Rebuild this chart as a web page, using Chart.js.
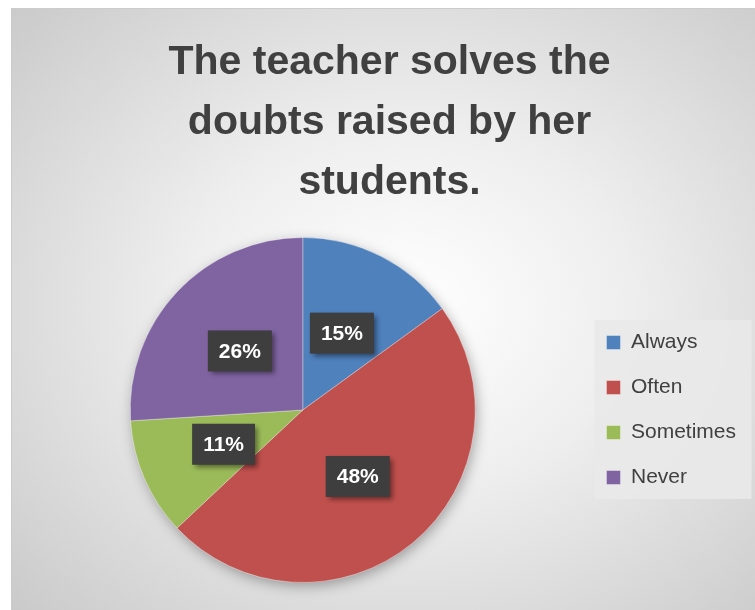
<!DOCTYPE html>
<html>
<head>
  <meta charset="utf-8">
  <title>Doubts pie</title>
  <script src="https://cdn.jsdelivr.net/npm/chart.js@4.4.0/dist/chart.umd.min.js"></script>
  <style>
    html, body {
      margin: 0;
      padding: 0;
      width: 755px;
      height: 610px;
      overflow: hidden;
      background: #fff;
    }
    .frame {
      position: absolute;
      left: 11px;
      top: 8px;
      width: 760px;
      height: 620px;
      border: 1px solid #cccccc;
      background: radial-gradient(ellipse farthest-corner at 52% 48%, #ffffff 0%, #eeeeee 40%, #c8c8c8 100%);
    }
    .chart-box {
      position: absolute;
      left: 11px;
      top: 8px;
      width: 744px;
      height: 602px;
    }
  </style>
</head>
<body>
  <div class="frame"></div>
  <div class="chart-box">
    <canvas id="pie"></canvas>
  </div>

<script>
// answers to "The teacher solves the doubts raised by her students."
const categories = ['Always', 'Often', 'Sometimes', 'Never'];
const percents = [15, 48, 11, 26];
const sliceColors = ['#4f81bd', '#c0504d', '#9bbb59', '#8064a2'];
const titleLines = ['The teacher solves the', 'doubts raised by her', 'students.'];

// nudge the title a little right, it sits over the whole frame in the original
const titleNudge = {
  id: 'titleNudge',
  afterLayout(chart) {
    if (chart.titleBlock) chart.titleBlock.left += 10;
  }
};

// flat light panel behind the legend entries
const legendPanel = {
  id: 'legendPanel',
  beforeDraw(chart) {
    const boxes = chart.legend && chart.legend.legendHitBoxes;
    if (!boxes || !boxes.length) return;
    const first = boxes[0];
    const last = boxes[boxes.length - 1];
    const ctx = chart.ctx;
    ctx.save();
    ctx.fillStyle = 'rgba(233,233,233,0.9)';
    ctx.fillRect(first.left - 12, first.top - 12, 157, last.top + last.height - first.top + 23);
    ctx.restore();
  }
};

// soft shadow under the whole pie
const pieShadow = {
  id: 'pieShadow',
  beforeDatasetsDraw(chart) {
    const arc = chart.getDatasetMeta(0).data[0];
    if (!arc) return;
    const p = arc.getProps(['x', 'y', 'outerRadius'], true);
    const ctx = chart.ctx;
    ctx.save();
    ctx.shadowColor = 'rgba(0,0,0,0.35)';
    ctx.shadowBlur = 14;
    ctx.shadowOffsetX = 2;
    ctx.shadowOffsetY = 4;
    ctx.fillStyle = '#999';
    ctx.beginPath();
    ctx.arc(p.x, p.y, p.outerRadius - 1, 0, Math.PI * 2);
    ctx.fill();
    ctx.restore();
  }
};

// dark boxed percentage labels, halfway out along each slice
const sliceLabels = {
  id: 'sliceLabels',
  afterDatasetsDraw(chart) {
    const ctx = chart.ctx;
    const meta = chart.getDatasetMeta(0);
    ctx.save();
    ctx.font = 'bold 21px "Liberation Sans", Arial, sans-serif';
    ctx.textAlign = 'center';
    ctx.textBaseline = 'middle';
    meta.data.forEach((arc, i) => {
      const p = arc.getProps(['x', 'y', 'startAngle', 'endAngle', 'outerRadius'], true);
      const mid = (p.startAngle + p.endAngle) / 2;
      const cx = p.x + Math.cos(mid) * p.outerRadius * 0.5;
      const cy = p.y + Math.sin(mid) * p.outerRadius * 0.5;
      const text = percents[i] + '%';
      const w = ctx.measureText(text).width + 22;
      const h = 41;
      ctx.shadowColor = 'rgba(0,0,0,0.45)';
      ctx.shadowBlur = 5;
      ctx.shadowOffsetX = 3;
      ctx.shadowOffsetY = 3;
      ctx.fillStyle = '#3e3e3e';
      ctx.fillRect(cx - w / 2, cy - h / 2, w, h);
      ctx.shadowColor = 'transparent';
      ctx.fillStyle = '#ffffff';
      ctx.fillText(text, cx, cy + 1);
    });
    ctx.restore();
  }
};

document.addEventListener('DOMContentLoaded', function() {
  const ctx = document.getElementById('pie').getContext('2d');
  new Chart(ctx, {
    type: 'pie',
    data: {
      labels: categories,
      datasets: [{
        data: percents,
        backgroundColor: sliceColors,
        borderColor: 'rgba(255,255,255,0.35)',
        borderWidth: 1
      }]
    },
    options: {
      responsive: true,
      maintainAspectRatio: false,
      animation: false,
      layout: {
        padding: { left: 12, right: 9, top: 0, bottom: 27 }
      },
      plugins: {
        title: {
          display: true,
          text: titleLines,
          color: '#404040',
          font: { family: '"Liberation Sans", Arial, sans-serif', size: 41, weight: 'bold', lineHeight: 60 / 41 },
          padding: { top: 25, bottom: 24 }
        },
        legend: {
          position: 'right',
          align: 'center',
          fullSize: false,
          labels: {
            color: '#404040',
            font: { family: '"Liberation Sans", Arial, sans-serif', size: 21 },
            boxWidth: 14,
            boxHeight: 14,
            padding: 24
          }
        },
        tooltip: { enabled: false }
      }
    },
    plugins: [titleNudge, legendPanel, pieShadow, sliceLabels]
  });
});
</script>
</body>
</html>
